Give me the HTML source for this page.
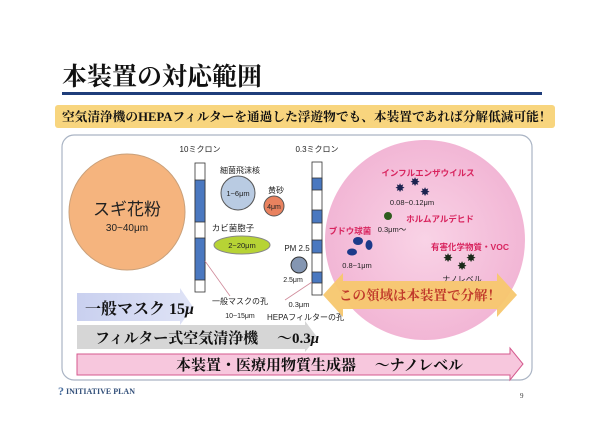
<!DOCTYPE html>
<html><head><meta charset="utf-8"><style>
body{margin:0;background:#fff;}
svg{display:block}
.s{font-family:"Liberation Serif","Noto Serif CJK SC",serif;}
.g{font-family:"Liberation Sans","Noto Sans CJK JP",sans-serif;}
</style></head><body>
<svg width="600" height="422" viewBox="0 0 600 422" xmlns="http://www.w3.org/2000/svg">
<defs>
<clipPath id="bx"><rect x="62" y="135" width="470" height="245" rx="12"/></clipPath>
<radialGradient id="pk" cx="0.5" cy="0.5" r="0.5"><stop offset="0" stop-color="#f9d3e6"/><stop offset="1" stop-color="#f2b6d5"/></radialGradient>
<linearGradient id="ma" x1="0" x2="1"><stop offset="0" stop-color="#c9d0ef"/><stop offset="1" stop-color="#dfe3f6"/></linearGradient>
</defs>
<text x="62" y="85" class="s" font-size="25" font-weight="bold" fill="#111">本装置の対応範囲</text>
<rect x="62" y="92" width="480" height="3" fill="#1f3d7a"/>
<rect x="55" y="105" width="500" height="23" rx="3" fill="#f8d57e"/>
<text x="62" y="121" class="s" font-size="12.7" font-weight="bold" fill="#111">空気清浄機のHEPAフィルターを通過した浮遊物でも、本装置であれば分解低減可能！</text>
<rect x="62" y="135" width="470" height="245" rx="12" fill="#fff" stroke="#aab4c4" stroke-width="1.2"/>
<g clip-path="url(#bx)">
<circle cx="425" cy="240" r="100" fill="url(#pk)"/>
</g>
<circle cx="127" cy="212" r="58" fill="#f5b47e" stroke="#c9a07a"/>
<text x="127" y="215" text-anchor="middle" class="g" font-size="17" fill="#222">スギ花粉</text>
<text x="127" y="231" text-anchor="middle" class="g" font-size="10" fill="#222">30~40μm</text>
<text x="200" y="152" text-anchor="middle" class="g" font-size="8" fill="#222">10ミクロン</text>
<rect x="195" y="163" width="10" height="129" fill="#fff" stroke="#333" stroke-width="0.8"/>
<rect x="195" y="180" width="10" height="42" fill="#4a78c0" stroke="#333" stroke-width="0.8"/>
<rect x="195" y="238" width="10" height="42" fill="#4a78c0" stroke="#333" stroke-width="0.8"/>
<text x="240" y="173" text-anchor="middle" class="g" font-size="8" fill="#222">細菌飛沫核</text>
<circle cx="238" cy="193" r="17" fill="#b9cbe2" stroke="#555"/>
<text x="238" y="196" text-anchor="middle" class="g" font-size="7.5" fill="#222">1~6μm</text>
<text x="276" y="193" text-anchor="middle" class="g" font-size="8" fill="#222">黄砂</text>
<circle cx="274" cy="206" r="10" fill="#e9825f" stroke="#555"/>
<text x="274" y="209" text-anchor="middle" class="g" font-size="7" fill="#222">4μm</text>
<text x="233" y="231" text-anchor="middle" class="g" font-size="8.5" fill="#222">カビ菌胞子</text>
<ellipse cx="242" cy="245" rx="28" ry="9" fill="#b7d335" stroke="#888"/>
<text x="242" y="248" text-anchor="middle" class="g" font-size="7.5" fill="#222">2~20μm</text>
<text x="297" y="251" text-anchor="middle" class="g" font-size="8" fill="#222">PM 2.5</text>
<circle cx="299" cy="265" r="8" fill="#8496b2" stroke="#333"/>
<text x="293" y="282" text-anchor="middle" class="g" font-size="7" fill="#222">2.5μm</text>
<text x="317" y="152" text-anchor="middle" class="g" font-size="8" fill="#222">0.3ミクロン</text>
<rect x="312" y="162" width="10" height="133" fill="#fff" stroke="#333" stroke-width="0.8"/>
<rect x="312" y="178" width="10" height="12" fill="#4a78c0" stroke="#333" stroke-width="0.8"/>
<rect x="312" y="210" width="10" height="13" fill="#4a78c0" stroke="#333" stroke-width="0.8"/>
<rect x="312" y="240" width="10" height="13" fill="#4a78c0" stroke="#333" stroke-width="0.8"/>
<rect x="312" y="272" width="10" height="11" fill="#4a78c0" stroke="#333" stroke-width="0.8"/>
<line x1="230" y1="296" x2="205" y2="261" stroke="#d08a9a" stroke-width="0.8"/>
<line x1="285" y1="300" x2="312" y2="282" stroke="#d08a9a" stroke-width="0.8"/>
<text x="240" y="304" text-anchor="middle" class="g" font-size="8" fill="#222">一般マスクの孔</text>
<text x="240" y="318" text-anchor="middle" class="g" font-size="7" fill="#222">10~15μm</text>
<text x="299" y="307" text-anchor="middle" class="g" font-size="7.5" fill="#222">0.3μm</text>
<text x="267" y="320" class="g" font-size="8" fill="#222">HEPAフィルターの孔</text>
<text x="428" y="176" text-anchor="middle" class="g" font-size="8.5" font-weight="bold" fill="#d8245e">インフルエンザウイルス</text>
<g fill="#1c2350" font-size="12" class="g" text-anchor="middle">
<text x="400" y="192">✸</text><text x="415" y="186">✸</text><text x="425" y="196">✸</text></g>
<text x="412" y="205" text-anchor="middle" class="g" font-size="7.5" fill="#222">0.08~0.12μm</text>
<circle cx="388" cy="216" r="4" fill="#2e5c1e"/>
<text x="440" y="222" text-anchor="middle" class="g" font-size="8.5" font-weight="bold" fill="#d8245e">ホルムアルデヒド</text>
<text x="392" y="232" text-anchor="middle" class="g" font-size="7.5" fill="#222">0.3μm～</text>
<text x="350" y="234" text-anchor="middle" class="g" font-size="8.5" font-weight="bold" fill="#d8245e">ブドウ球菌</text>
<g fill="#1c3a8a"><ellipse cx="358" cy="241" rx="5" ry="4"/><ellipse cx="369" cy="245" rx="3.5" ry="5"/><ellipse cx="352" cy="252" rx="5" ry="3.5"/></g>
<text x="357" y="268" text-anchor="middle" class="g" font-size="7.5" fill="#222">0.8~1μm</text>
<text x="470" y="250" text-anchor="middle" class="g" font-size="8.5" font-weight="bold" fill="#d8245e">有害化学物質・VOC</text>
<g fill="#1a2a1a" font-size="12" class="g" text-anchor="middle">
<text x="448" y="262">✸</text><text x="471" y="262">✸</text><text x="462" y="270">✸</text></g>
<text x="462" y="282" text-anchor="middle" class="g" font-size="8" fill="#222">ナノレベル</text>
<polygon points="323,295 343,273 343,281 497,281 497,273 517,295 497,317 497,309 343,309 343,317" fill="#f7c76e" opacity="0.95"/>
<text x="420" y="300" text-anchor="middle" class="s" font-size="13.5" font-weight="bold" fill="#c0392b">この領域は本装置で分解！</text>
<polygon points="77,293 180,293 180,288 193,307 180,325 180,321 77,321" fill="url(#ma)"/>
<text x="85" y="314" class="s" font-size="16" font-weight="bold" fill="#111">一般マスク  15<tspan font-style="italic">μ</tspan></text>
<polygon points="77,325 305,325 305,321 317,337 305,352 305,349 77,349" fill="#d6d6d6"/>
<text x="95" y="343" class="s" font-size="15" font-weight="bold" fill="#111">フィルター式空気清浄機　 ～0.3<tspan font-style="italic">μ</tspan></text>
<polygon points="77,354 510,354 510,348 523,364 510,380 510,375 77,375" fill="#f7c7dd" stroke="#d45a8e" stroke-width="1"/>
<text x="176" y="370" class="s" font-size="15" font-weight="bold" fill="#111">本装置・医療用物質生成器　 ～ナノレベル</text>
<text x="58" y="395" class="s" font-size="12" fill="#4a6fa0" font-weight="bold">?</text>
<text x="66" y="394" class="s" font-size="8" fill="#33507a" font-weight="bold">INITIATIVE PLAN</text>
<text x="520" y="398" class="s" font-size="7" fill="#333">9</text>
</svg>
</body></html>
